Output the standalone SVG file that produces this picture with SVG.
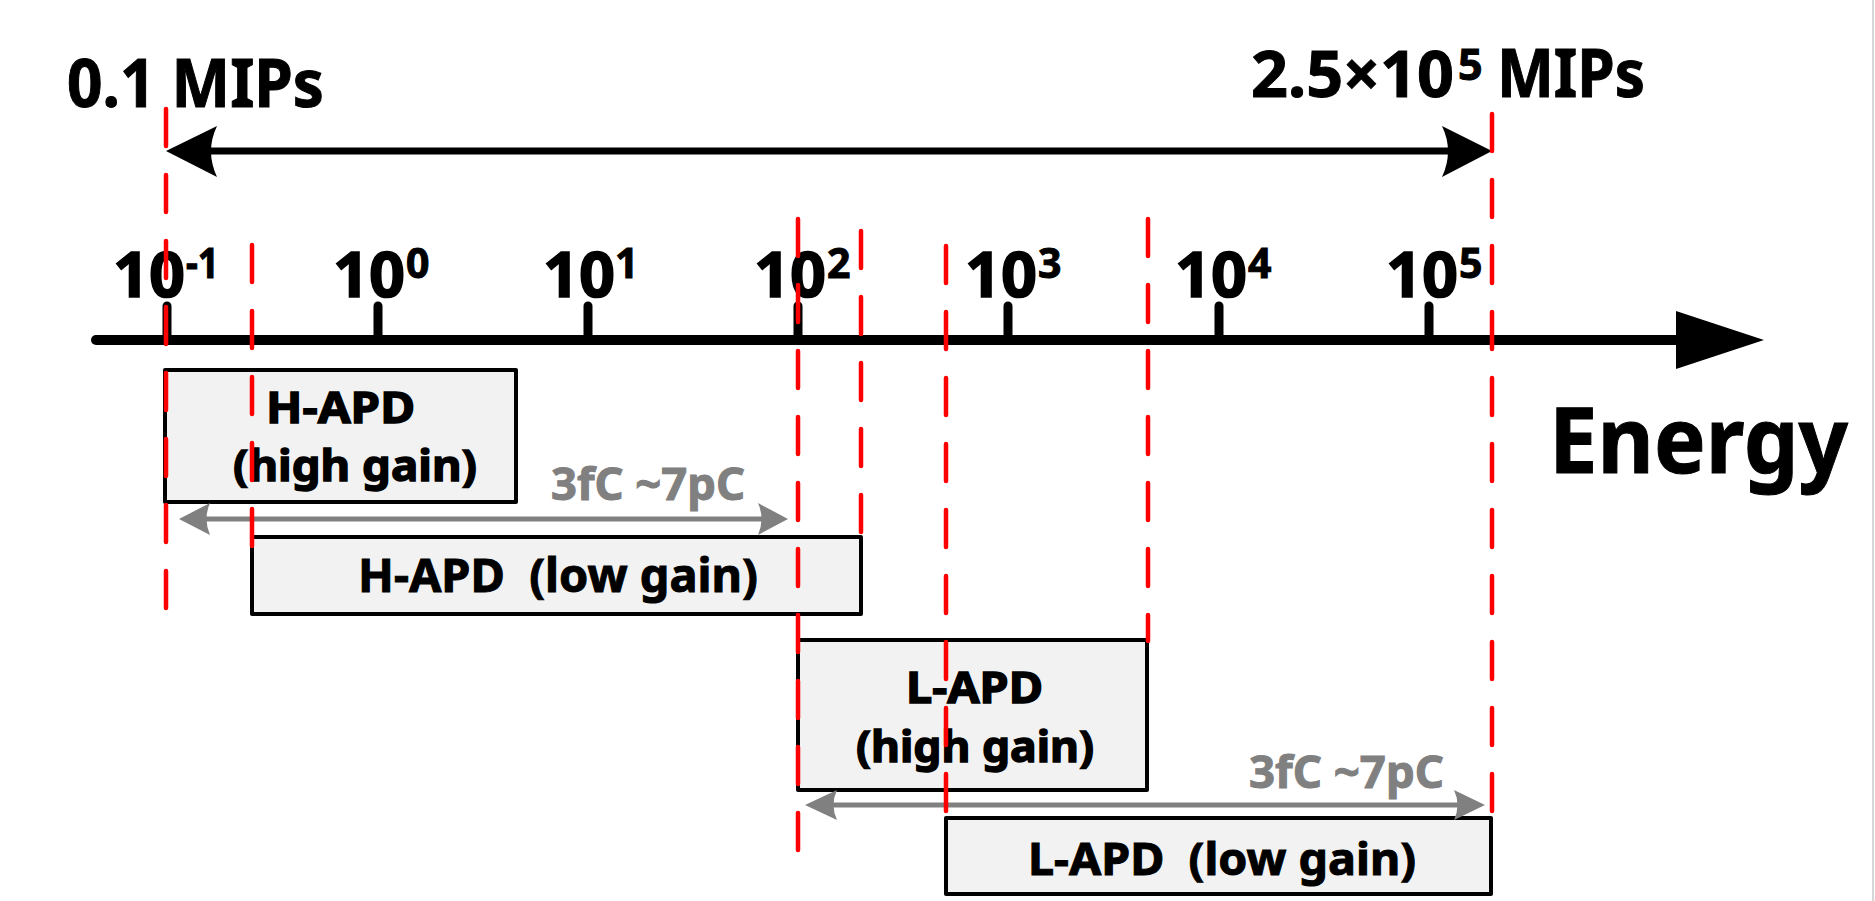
<svg xmlns="http://www.w3.org/2000/svg" width="1875" height="901" viewBox="0 0 1875 901">
<style>
text{font-family:"Noto Sans","Open Sans","Liberation Sans",sans-serif;font-weight:700;fill:#000;stroke:#000;stroke-width:1;white-space:pre}
.gray{fill:#808080;stroke:#808080}
.box{fill:#f2f2f2;stroke:#000;stroke-width:4;stroke-linejoin:round}
.red{stroke:#ff0000;stroke-width:4.5;stroke-dasharray:37 29;stroke-linecap:round;fill:none}
.tick{stroke:#000;stroke-width:9;stroke-linecap:round}
.garrow{stroke:#808080;stroke-width:5}
.lab{font-size:63px;stroke-width:1.6}
.sup{font-size:41px}
.two{font-size:43px;stroke-width:1.4}
</style>
<rect x="0" y="0" width="1875" height="901" fill="#fff"/>
<rect x="1872" y="0" width="2" height="901" fill="#d6d6d6"/>

<g id="axis">
<line x1="96" y1="340" x2="1680" y2="340" stroke="#000" stroke-width="10" stroke-linecap="round"/>
<polygon points="1676,311 1764,340 1676,369" fill="#000"/>
<line class="tick" x1="167" y1="306" x2="167" y2="340"/>
<line class="tick" x1="378" y1="306" x2="378" y2="340"/>
<line class="tick" x1="588" y1="306" x2="588" y2="340"/>
<line class="tick" x1="798" y1="306" x2="798" y2="340"/>
<line class="tick" x1="1008" y1="306" x2="1008" y2="340"/>
<line class="tick" x1="1219" y1="306" x2="1219" y2="340"/>
<line class="tick" x1="1429" y1="306" x2="1429" y2="340"/>
<text class="lab" x="113" y="297">10</text>
<text class="sup" x="186" y="278" textLength="33" lengthAdjust="spacingAndGlyphs">-1</text>
<text class="lab" x="333" y="297">10</text>
<text class="sup" x="406" y="278">0</text>
<text class="lab" x="543" y="297">10</text>
<text class="sup" x="615" y="278">1</text>
<text class="lab" x="754" y="297">10</text>
<text class="sup" x="827" y="278">2</text>
<text class="lab" x="965" y="297">10</text>
<text class="sup" x="1038" y="278">3</text>
<text class="lab" x="1175" y="297">10</text>
<text class="sup" x="1248" y="278">4</text>
<text class="lab" x="1386" y="297">10</text>
<text class="sup" x="1459" y="278">5</text>
<text x="1549" y="473" font-size="92" textLength="299" lengthAdjust="spacingAndGlyphs">Energy</text>
</g>

<g id="range">
<line x1="210" y1="151" x2="1448" y2="151" stroke="#000" stroke-width="7"/>
<path d="M166,151 L217,126 Q205,151 217,177 Z" fill="#000"/>
<path d="M1492,151 L1442,126 Q1454,151 1442,177 Z" fill="#000"/>
<text x="67" y="107" font-size="66" textLength="257" lengthAdjust="spacingAndGlyphs">0.1 MIPs</text>
<text x="1251" y="97" font-size="64" stroke-width="1.6" textLength="203" lengthAdjust="spacingAndGlyphs">2.5×10</text>
<text x="1458" y="80" font-size="43">5</text>
<text x="1497" y="97" font-size="67" textLength="148" lengthAdjust="spacingAndGlyphs">MIPs</text>
</g>

<g id="h-apd-high">
<rect class="box" x="165" y="370" width="351" height="132"/>
<text class="two" x="266" y="423" textLength="149" lengthAdjust="spacingAndGlyphs">H-APD</text>
<text class="two" x="233" y="481" textLength="244" lengthAdjust="spacingAndGlyphs">(high gain)</text>
</g>

<g id="h-apd-low">
<rect class="box" x="252" y="537" width="609" height="77"/>
<text x="358" y="592" font-size="46" textLength="400" lengthAdjust="spacingAndGlyphs">H-APD  (low gain)</text>
</g>

<g id="l-apd-high">
<rect class="box" x="798" y="640" width="349" height="150"/>
<text class="two" x="906" y="703" textLength="137" lengthAdjust="spacingAndGlyphs">L-APD</text>
<text class="two" x="856" y="762" textLength="238" lengthAdjust="spacingAndGlyphs">(high gain)</text>
</g>

<g id="l-apd-low">
<rect class="box" x="946" y="818" width="545" height="76"/>
<text x="1028" y="875" font-size="45" textLength="388" lengthAdjust="spacingAndGlyphs">L-APD  (low gain)</text>
</g>

<g id="connectors">
<line class="garrow" x1="205" y1="519" x2="763" y2="519"/>
<path d="M179,519 L210,503 Q203,519 210,535 Z" fill="#808080"/>
<path d="M788,519 L758,503 Q765,519 758,535 Z" fill="#808080"/>
<text class="gray" x="551" y="500" font-size="45" textLength="194" lengthAdjust="spacingAndGlyphs">3fC ~7pC</text>
<line class="garrow" x1="832" y1="805" x2="1459" y2="805"/>
<path d="M805,805 L837,790 Q830,805 837,820 Z" fill="#808080"/>
<path d="M1485,805 L1454,790 Q1461,805 1454,820 Z" fill="#808080"/>
<text class="gray" x="1249" y="788" font-size="45" textLength="195" lengthAdjust="spacingAndGlyphs">3fC ~7pC</text>
</g>

<g id="limits">
<line class="red" x1="166" y1="109" x2="166" y2="614"/>
<line class="red" x1="252" y1="245" x2="252" y2="550"/>
<line class="red" x1="798" y1="219" x2="798" y2="853"/>
<line class="red" x1="861" y1="231" x2="861" y2="536"/>
<line class="red" x1="946" y1="246" x2="946" y2="818"/>
<line class="red" x1="1148" y1="219" x2="1148" y2="641"/>
<line class="red" x1="1492" y1="114" x2="1492" y2="818"/>
</g>
</svg>
